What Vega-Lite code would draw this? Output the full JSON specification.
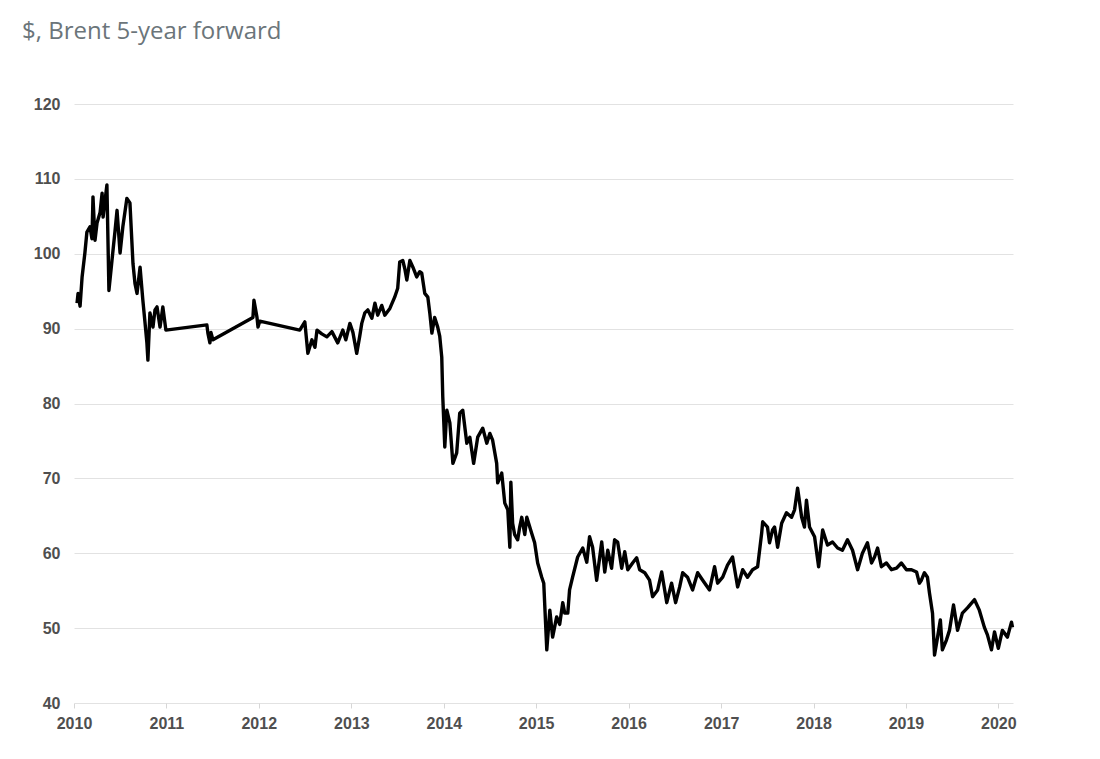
{
  "$schema": "https://vega.github.io/schema/vega-lite/v6.json",
  "width": 939,
  "height": 599,
  "autosize": {"type": "none"},
  "padding": {"left": 74, "top": 104, "right": 87, "bottom": 56},
  "background": "white",
  "title": {
    "text": "$, Brent 5-year forward",
    "anchor": "start",
    "frame": "group",
    "font": "Open Sans",
    "fontSize": 24,
    "fontWeight": "normal",
    "color": "#6b757a",
    "dx": -52,
    "offset": 52
  },
  "config": {
    "view": {"stroke": null},
    "axis": {
      "labelFont": "Liberation Sans",
      "labelFontSize": 16,
      "labelFontWeight": "bold",
      "labelColor": "#4f4f4f",
      "gridColor": "#e2e2e2",
      "gridWidth": 1,
      "title": null
    }
  },
  "data": {
    "values": [
      {"date": "2010-01-13", "price": 93.4},
      {"date": "2010-01-17", "price": 94.7},
      {"date": "2010-01-25", "price": 93.0},
      {"date": "2010-02-02", "price": 96.9},
      {"date": "2010-02-13", "price": 100.1},
      {"date": "2010-02-21", "price": 102.9},
      {"date": "2010-03-05", "price": 103.6},
      {"date": "2010-03-13", "price": 102.0},
      {"date": "2010-03-17", "price": 107.6},
      {"date": "2010-03-25", "price": 101.8},
      {"date": "2010-04-02", "price": 104.1},
      {"date": "2010-04-14", "price": 105.5},
      {"date": "2010-04-22", "price": 108.1},
      {"date": "2010-04-26", "price": 104.9},
      {"date": "2010-05-11", "price": 109.2},
      {"date": "2010-05-19", "price": 95.1},
      {"date": "2010-05-31", "price": 99.1},
      {"date": "2010-06-12", "price": 103.0},
      {"date": "2010-06-20", "price": 105.8},
      {"date": "2010-07-02", "price": 100.1},
      {"date": "2010-07-13", "price": 103.6},
      {"date": "2010-07-29", "price": 107.4},
      {"date": "2010-08-10", "price": 106.8},
      {"date": "2010-08-22", "price": 98.7},
      {"date": "2010-08-30", "price": 96.0},
      {"date": "2010-09-07", "price": 94.7},
      {"date": "2010-09-19", "price": 98.2},
      {"date": "2010-09-30", "price": 93.8},
      {"date": "2010-10-08", "price": 91.0},
      {"date": "2010-10-16", "price": 88.1},
      {"date": "2010-10-20", "price": 85.8},
      {"date": "2010-10-28", "price": 92.1},
      {"date": "2010-11-09", "price": 90.2},
      {"date": "2010-11-17", "price": 92.5},
      {"date": "2010-11-25", "price": 92.9},
      {"date": "2010-12-07", "price": 90.2},
      {"date": "2010-12-18", "price": 92.9},
      {"date": "2010-12-30", "price": 89.8},
      {"date": "2011-06-10", "price": 90.5},
      {"date": "2011-06-14", "price": 89.4},
      {"date": "2011-06-22", "price": 88.1},
      {"date": "2011-06-26", "price": 89.5},
      {"date": "2011-07-04", "price": 88.5},
      {"date": "2011-12-09", "price": 91.5},
      {"date": "2011-12-13", "price": 93.8},
      {"date": "2011-12-25", "price": 91.5},
      {"date": "2011-12-29", "price": 90.2},
      {"date": "2012-01-05", "price": 91.0},
      {"date": "2012-06-11", "price": 89.8},
      {"date": "2012-07-01", "price": 90.9},
      {"date": "2012-07-13", "price": 86.7},
      {"date": "2012-07-29", "price": 88.5},
      {"date": "2012-08-10", "price": 87.5},
      {"date": "2012-08-18", "price": 89.8},
      {"date": "2012-09-06", "price": 89.3},
      {"date": "2012-09-26", "price": 88.9},
      {"date": "2012-10-16", "price": 89.6},
      {"date": "2012-11-08", "price": 88.1},
      {"date": "2012-11-28", "price": 89.8},
      {"date": "2012-12-10", "price": 88.5},
      {"date": "2012-12-26", "price": 90.7},
      {"date": "2013-01-07", "price": 89.5},
      {"date": "2013-01-22", "price": 86.7},
      {"date": "2013-02-03", "price": 89.0},
      {"date": "2013-02-11", "price": 90.7},
      {"date": "2013-02-23", "price": 92.1},
      {"date": "2013-03-07", "price": 92.5},
      {"date": "2013-03-23", "price": 91.4},
      {"date": "2013-04-04", "price": 93.4},
      {"date": "2013-04-15", "price": 91.8},
      {"date": "2013-05-01", "price": 93.1},
      {"date": "2013-05-13", "price": 91.8},
      {"date": "2013-06-02", "price": 92.7},
      {"date": "2013-06-21", "price": 94.2},
      {"date": "2013-07-03", "price": 95.4},
      {"date": "2013-07-11", "price": 98.9},
      {"date": "2013-07-23", "price": 99.1},
      {"date": "2013-07-31", "price": 98.0},
      {"date": "2013-08-08", "price": 96.5},
      {"date": "2013-08-20", "price": 99.1},
      {"date": "2013-09-01", "price": 98.2},
      {"date": "2013-09-16", "price": 96.9},
      {"date": "2013-09-28", "price": 97.6},
      {"date": "2013-10-06", "price": 97.4},
      {"date": "2013-10-18", "price": 94.7},
      {"date": "2013-10-30", "price": 94.2},
      {"date": "2013-11-07", "price": 92.0},
      {"date": "2013-11-15", "price": 89.4},
      {"date": "2013-11-26", "price": 91.5},
      {"date": "2013-12-08", "price": 90.2},
      {"date": "2013-12-16", "price": 89.0},
      {"date": "2013-12-24", "price": 86.2},
      {"date": "2013-12-28", "price": 80.9},
      {"date": "2014-01-05", "price": 74.2},
      {"date": "2014-01-13", "price": 79.1},
      {"date": "2014-01-25", "price": 77.4},
      {"date": "2014-02-06", "price": 72.0},
      {"date": "2014-02-21", "price": 73.4},
      {"date": "2014-03-05", "price": 78.7},
      {"date": "2014-03-17", "price": 79.1},
      {"date": "2014-04-02", "price": 74.7},
      {"date": "2014-04-14", "price": 75.5},
      {"date": "2014-04-29", "price": 72.0},
      {"date": "2014-05-15", "price": 75.5},
      {"date": "2014-06-04", "price": 76.7},
      {"date": "2014-06-20", "price": 74.7},
      {"date": "2014-07-02", "price": 76.0},
      {"date": "2014-07-13", "price": 75.1},
      {"date": "2014-07-29", "price": 72.0},
      {"date": "2014-08-02", "price": 69.4},
      {"date": "2014-08-18", "price": 70.7},
      {"date": "2014-08-30", "price": 66.7},
      {"date": "2014-09-11", "price": 65.8},
      {"date": "2014-09-19", "price": 60.8},
      {"date": "2014-09-23", "price": 69.5},
      {"date": "2014-09-30", "price": 64.0},
      {"date": "2014-10-08", "price": 62.5},
      {"date": "2014-10-20", "price": 61.8},
      {"date": "2014-10-28", "price": 63.5},
      {"date": "2014-11-05", "price": 64.8},
      {"date": "2014-11-17", "price": 62.5},
      {"date": "2014-11-25", "price": 64.8},
      {"date": "2014-12-14", "price": 62.7},
      {"date": "2014-12-26", "price": 61.4},
      {"date": "2015-01-07", "price": 58.7},
      {"date": "2015-01-23", "price": 56.8},
      {"date": "2015-01-31", "price": 56.0},
      {"date": "2015-02-12", "price": 47.1},
      {"date": "2015-02-24", "price": 52.4},
      {"date": "2015-03-07", "price": 48.8},
      {"date": "2015-03-23", "price": 51.5},
      {"date": "2015-04-04", "price": 50.5},
      {"date": "2015-04-16", "price": 53.4},
      {"date": "2015-04-24", "price": 52.0},
      {"date": "2015-05-06", "price": 52.0},
      {"date": "2015-05-13", "price": 55.1},
      {"date": "2015-05-25", "price": 56.8},
      {"date": "2015-06-14", "price": 59.5},
      {"date": "2015-07-04", "price": 60.7},
      {"date": "2015-07-20", "price": 58.8},
      {"date": "2015-07-31", "price": 62.2},
      {"date": "2015-08-12", "price": 60.8},
      {"date": "2015-08-28", "price": 56.4},
      {"date": "2015-09-17", "price": 61.5},
      {"date": "2015-09-29", "price": 57.5},
      {"date": "2015-10-11", "price": 60.4},
      {"date": "2015-10-26", "price": 58.0},
      {"date": "2015-11-07", "price": 61.8},
      {"date": "2015-11-19", "price": 61.5},
      {"date": "2015-12-05", "price": 58.0},
      {"date": "2015-12-17", "price": 60.2},
      {"date": "2015-12-29", "price": 57.8},
      {"date": "2016-01-17", "price": 58.7},
      {"date": "2016-02-02", "price": 59.4},
      {"date": "2016-02-14", "price": 57.8},
      {"date": "2016-03-05", "price": 57.4},
      {"date": "2016-03-24", "price": 56.4},
      {"date": "2016-04-05", "price": 54.2},
      {"date": "2016-04-25", "price": 55.1},
      {"date": "2016-05-11", "price": 57.5},
      {"date": "2016-05-31", "price": 53.4},
      {"date": "2016-06-19", "price": 56.0},
      {"date": "2016-07-05", "price": 53.4},
      {"date": "2016-07-21", "price": 55.5},
      {"date": "2016-08-02", "price": 57.4},
      {"date": "2016-08-21", "price": 56.8},
      {"date": "2016-09-10", "price": 55.1},
      {"date": "2016-09-30", "price": 57.4},
      {"date": "2016-10-20", "price": 56.4},
      {"date": "2016-11-16", "price": 55.1},
      {"date": "2016-12-06", "price": 58.2},
      {"date": "2016-12-18", "price": 56.0},
      {"date": "2017-01-07", "price": 56.8},
      {"date": "2017-01-26", "price": 58.4},
      {"date": "2017-02-15", "price": 59.5},
      {"date": "2017-03-07", "price": 55.5},
      {"date": "2017-03-27", "price": 57.8},
      {"date": "2017-04-15", "price": 56.8},
      {"date": "2017-05-05", "price": 57.8},
      {"date": "2017-05-25", "price": 58.2},
      {"date": "2017-06-10", "price": 62.7},
      {"date": "2017-06-14", "price": 64.2},
      {"date": "2017-07-03", "price": 63.5},
      {"date": "2017-07-11", "price": 61.4},
      {"date": "2017-07-23", "price": 63.1},
      {"date": "2017-07-31", "price": 63.5},
      {"date": "2017-08-12", "price": 60.8},
      {"date": "2017-08-28", "price": 64.0},
      {"date": "2017-09-16", "price": 65.4},
      {"date": "2017-10-06", "price": 64.8},
      {"date": "2017-10-18", "price": 65.8},
      {"date": "2017-10-30", "price": 68.7},
      {"date": "2017-11-15", "price": 64.8},
      {"date": "2017-11-26", "price": 63.5},
      {"date": "2017-12-04", "price": 67.1},
      {"date": "2017-12-16", "price": 63.5},
      {"date": "2018-01-05", "price": 62.2},
      {"date": "2018-01-21", "price": 58.2},
      {"date": "2018-02-06", "price": 63.1},
      {"date": "2018-02-25", "price": 61.1},
      {"date": "2018-03-17", "price": 61.5},
      {"date": "2018-04-06", "price": 60.7},
      {"date": "2018-04-25", "price": 60.4},
      {"date": "2018-05-15", "price": 61.8},
      {"date": "2018-06-04", "price": 60.4},
      {"date": "2018-06-24", "price": 57.8},
      {"date": "2018-07-13", "price": 60.0},
      {"date": "2018-08-02", "price": 61.4},
      {"date": "2018-08-18", "price": 58.7},
      {"date": "2018-08-30", "price": 59.5},
      {"date": "2018-09-11", "price": 60.7},
      {"date": "2018-09-26", "price": 58.2},
      {"date": "2018-10-16", "price": 58.7},
      {"date": "2018-11-05", "price": 57.8},
      {"date": "2018-11-25", "price": 58.0},
      {"date": "2018-12-14", "price": 58.7},
      {"date": "2019-01-03", "price": 57.8},
      {"date": "2019-01-23", "price": 57.8},
      {"date": "2019-02-12", "price": 57.5},
      {"date": "2019-02-23", "price": 56.0},
      {"date": "2019-03-03", "price": 56.4},
      {"date": "2019-03-15", "price": 57.4},
      {"date": "2019-03-27", "price": 56.8},
      {"date": "2019-04-04", "price": 54.7},
      {"date": "2019-04-16", "price": 52.0},
      {"date": "2019-04-24", "price": 46.4},
      {"date": "2019-05-06", "price": 48.8},
      {"date": "2019-05-17", "price": 51.1},
      {"date": "2019-05-25", "price": 47.1},
      {"date": "2019-06-10", "price": 48.4},
      {"date": "2019-06-22", "price": 49.7},
      {"date": "2019-07-08", "price": 53.1},
      {"date": "2019-07-24", "price": 49.7},
      {"date": "2019-08-12", "price": 52.0},
      {"date": "2019-09-01", "price": 52.7},
      {"date": "2019-09-29", "price": 53.8},
      {"date": "2019-10-18", "price": 52.4},
      {"date": "2019-11-07", "price": 50.1},
      {"date": "2019-11-19", "price": 49.1},
      {"date": "2019-12-05", "price": 47.1},
      {"date": "2019-12-17", "price": 49.5},
      {"date": "2020-01-01", "price": 47.3},
      {"date": "2020-01-17", "price": 49.7},
      {"date": "2020-02-06", "price": 48.8},
      {"date": "2020-02-22", "price": 50.8},
      {"date": "2020-02-26", "price": 50.1}
    ]
  },
  "mark": {"type": "line", "color": "#000000", "strokeWidth": 3.4, "strokeJoin": "round"},
  "encoding": {
    "x": {
      "field": "date",
      "type": "temporal",
      "scale": {"domain": ["2010-01-01", "2020-02-28"]},
      "axis": {
        "format": "%Y",
        "tickCount": {"interval": "year", "step": 1},
        "grid": false,
        "domain": false,
        "ticks": true,
        "tickColor": "#d6d6d6",
        "tickSize": 5,
        "labelPadding": 7,
        "labelFlush": false
      }
    },
    "y": {
      "field": "price",
      "type": "quantitative",
      "scale": {"domain": [40, 120], "nice": false, "zero": false},
      "axis": {
        "values": [40, 50, 60, 70, 80, 90, 100, 110, 120],
        "domain": false,
        "ticks": false,
        "grid": true,
        "labelPadding": 14
      }
    }
  }
}
